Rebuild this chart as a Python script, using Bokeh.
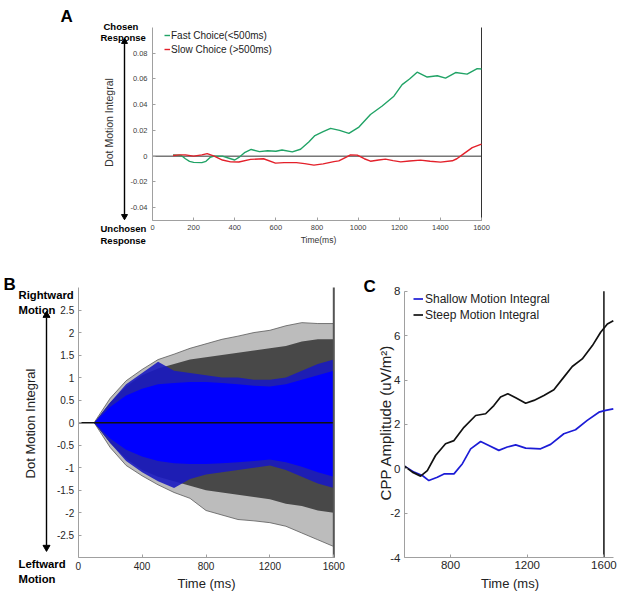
from math import pi
from bokeh.plotting import figure
from bokeh.models import Range1d, Label, FixedTicker, PrintfTickFormatter
from bokeh.layouts import column, row
from bokeh.embed import file_html
from bokeh.resources import INLINE

FONT = "Liberation Sans"

# ---------------- Panel A data ----------------
a_fast_t = [100, 140, 160, 180, 200, 240, 260, 280, 300, 340, 380, 400, 420, 450, 480,
            520, 560, 600, 630, 680, 720, 760, 790, 830, 866, 910, 955, 1004, 1060, 1117,
            1174, 1214, 1250, 1287, 1336, 1385, 1425, 1474, 1530, 1579, 1600]
a_fast_v = [0.001, 0.0005, -0.002, -0.004, -0.0048, -0.005, -0.004, -0.001, 0.0, 0.0,
            -0.002, -0.003, -0.001, 0.003, 0.0052, 0.0035, 0.0042, 0.0038, 0.0048, 0.0033,
            0.0054, 0.011, 0.016, 0.019, 0.0216, 0.02, 0.0177, 0.0226, 0.0324, 0.039,
            0.0466, 0.0556, 0.06, 0.0653, 0.0615, 0.0625, 0.0607, 0.065, 0.0638, 0.068, 0.0677]
a_slow_t = [100, 130, 160, 200, 240, 266, 300, 340, 380, 420, 477, 540, 598, 640, 700,
            740, 785, 830, 882, 906, 940, 963, 996, 1030, 1060, 1100, 1133, 1170, 1207,
            1250, 1303, 1350, 1401, 1458, 1480, 1506, 1555, 1600]
a_slow_v = [0.0005, 0.001, 0.001, 0.0, 0.001, 0.002, 0.0, -0.003, -0.0044, -0.0045,
            -0.0025, -0.002, -0.0054, -0.005, -0.005, -0.0058, -0.007, -0.006, -0.0042,
            -0.0037, -0.001, 0.001, 0.0008, -0.002, -0.0039, -0.003, -0.0023, -0.0035,
            -0.0044, -0.0038, -0.0031, -0.004, -0.0046, -0.0036, -0.002, 0.001, 0.0066, 0.0093]
a_labels = ["Fast Choice(<500ms)", "Slow Choice (>500ms)"]
a_xlim = (0, 1600)
a_ylim = (-0.05, 0.1)
a_xticks = [0, 200, 400, 600, 800, 1000, 1200, 1400, 1600]
a_yticks = [-0.04, -0.02, 0, 0.02, 0.04, 0.06, 0.08]

# ---------------- Panel B data (envelopes of the simulated traces) ----------------
b_t = [100, 200, 300, 400, 500, 600, 700, 800, 900, 1000, 1100, 1200, 1300, 1400, 1500, 1600]
b_outer_hi = [0, 0.54, 0.93, 1.18, 1.4, 1.52, 1.65, 1.75, 1.85, 1.92, 2.0, 2.05, 2.15, 2.22, 2.2, 2.2]
b_outer_lo = [0, -0.55, -0.95, -1.18, -1.38, -1.55, -1.68, -1.95, -2.05, -2.15, -2.18, -2.22, -2.3, -2.45, -2.6, -2.75]
b_dense_hi = [0, 0.45, 0.8, 1.05, 1.2, 1.3, 1.4, 1.45, 1.5, 1.55, 1.6, 1.65, 1.7, 1.8, 1.85, 1.85]
b_dense_lo = [0, -0.45, -0.8, -1.05, -1.2, -1.3, -1.4, -1.5, -1.55, -1.6, -1.65, -1.7, -1.8, -1.85, -1.95, -2.0]
b_blue_hi = [0, 0.45, 0.85, 1.1, 1.35, 1.15, 1.1, 1.05, 1.0, 1.0, 0.95, 0.95, 1.0, 1.15, 1.3, 1.4]
b_blue_lo = [0, -0.45, -0.85, -1.1, -1.3, -1.45, -1.25, -1.15, -1.1, -1.05, -1.0, -0.95, -1.05, -1.2, -1.35, -1.45]
b_core_hi = [0, 0.35, 0.6, 0.75, 0.85, 0.88, 0.9, 0.9, 0.88, 0.85, 0.82, 0.8, 0.85, 0.95, 1.05, 1.15]
b_core_lo = [0, -0.35, -0.6, -0.75, -0.85, -0.9, -0.92, -0.92, -0.9, -0.88, -0.85, -0.82, -0.88, -0.98, -1.1, -1.2]
b_xlim = (0, 1600)
b_ylim = (-3, 3)
b_xticks = [0, 400, 800, 1200, 1600]
b_yticks = [-2.5, -2, -1.5, -1, -0.5, 0, 0.5, 1, 1.5, 2, 2.5]

# ---------------- Panel C data ----------------
c_shallow_t = [560, 610, 653, 687, 731, 766, 818, 862, 905, 957, 1000, 1052, 1096, 1140,
               1192, 1270, 1322, 1391, 1452, 1513, 1574, 1609, 1649]
c_shallow_v = [0.12, -0.15, -0.3, -0.53, -0.38, -0.23, -0.23, 0.23, 0.9, 1.23, 1.05, 0.83,
               0.98, 1.08, 0.93, 0.9, 1.1, 1.58, 1.76, 2.18, 2.55, 2.63, 2.7]
c_steep_t = [560, 601, 644, 679, 722, 774, 818, 870, 931, 983, 1026, 1061, 1099, 1140,
             1192, 1235, 1287, 1339, 1391, 1435, 1487, 1540, 1583, 1618, 1649]
c_steep_v = [0.12, -0.15, -0.33, -0.08, 0.6, 1.13, 1.27, 1.87, 2.4, 2.48, 2.85, 3.23, 3.38,
             3.2, 2.95, 3.08, 3.3, 3.56, 4.13, 4.61, 4.95, 5.55, 6.15, 6.52, 6.67]
c_labels = ["Shallow Motion Integral", "Steep Motion Integral"]
c_xlim = (560, 1650)
c_ylim = (-4, 8)
c_xticks = [800, 1200, 1600]
c_yticks = [-4, -2, 0, 2, 4, 6, 8]

stim_end = 1600

AXIS_COL = "#a0a0a0"


# ---------- layout helpers (pixel boxes of each panel and of its plotting area) ----------
def make_panel(figbox, framebox, xlim, ylim):
    fx0, fx1, fy0, fy1 = figbox
    rx0, rx1, ry0, ry1 = framebox
    sx = (xlim[1] - xlim[0]) / (rx1 - rx0)
    sy = (ylim[1] - ylim[0]) / (ry1 - ry0)
    xr = (xlim[0] - (rx0 - fx0) * sx, xlim[1] + (fx1 - rx1) * sx)
    yr = (ylim[0] - (fy1 - ry1) * sy, ylim[1] + (ry0 - fy0) * sy)
    p = figure(x_range=Range1d(*xr), y_range=Range1d(*yr),
               frame_width=int(round(fx1 - fx0)), frame_height=int(round(fy1 - fy0)),
               min_border_left=0, min_border_right=0, min_border_top=0, min_border_bottom=0,
               output_backend="svg", toolbar_location=None)
    p.outline_line_color = None
    p.xgrid.visible = False
    p.ygrid.visible = False
    p.background_fill_color = "white"
    p.border_fill_color = "white"
    p.xaxis.fixed_location = ylim[0]
    p.xaxis.bounds = xlim
    p.yaxis.fixed_location = xlim[0]
    p.yaxis.bounds = ylim
    fr = (framebox, xlim, ylim)
    return p, fr


def style(p, xticks, yticks, tick_size, tick_col, xstand, ystand):
    p.xaxis.ticker = FixedTicker(ticks=xticks)
    p.yaxis.ticker = FixedTicker(ticks=yticks)
    p.yaxis.formatter = PrintfTickFormatter(format="%g")
    p.xaxis.formatter = PrintfTickFormatter(format="%g")
    for ax in p.axis:
        ax.axis_label = None
        ax.axis_line_color = AXIS_COL
        ax.axis_line_width = 1
        ax.major_tick_line_color = AXIS_COL
        ax.major_tick_in = 3
        ax.major_tick_out = 0
        ax.minor_tick_line_color = None
        ax.major_label_text_font = FONT
        ax.major_label_text_font_size = f"{tick_size}px"
        ax.major_label_text_color = tick_col
    p.xaxis.major_label_standoff = xstand
    p.yaxis.major_label_standoff = ystand


def to_data(fr, px, py):
    (x0, x1, y0, y1), (xa, xb), (ya, yb) = fr
    x = xa + (px - x0) / (x1 - x0) * (xb - xa)
    y = yb - (py - y0) / (y1 - y0) * (yb - ya)
    return x, y


def add_text(p, fr, txt, px, py, size, bold=True, align="left", baseline="alphabetic",
             angle=0.0, color="black"):
    x, y = to_data(fr, px, py)
    p.add_layout(Label(x=x, y=y, text=txt, text_font=FONT, text_font_size=f"{size}px",
                       text_font_style="bold" if bold else "normal", text_align=align,
                       text_baseline=baseline, angle=angle, text_color=color))


def add_arrow(p, fr, px, py_top, py_bot, head=7):
    x, yt = to_data(fr, px, py_top)
    _, yb = to_data(fr, px, py_bot)
    _, yt_c = to_data(fr, px, py_top + head * 0.45)
    _, yb_c = to_data(fr, px, py_bot - head * 0.45)
    _, yt_s = to_data(fr, px, py_top + head * 0.8)
    _, yb_s = to_data(fr, px, py_bot - head * 0.8)
    p.segment(x0=[x], y0=[yt_s], x1=[x], y1=[yb_s], line_color="black", line_width=1.4)
    p.scatter(x=[x, x], y=[yt_c, yb_c], marker="triangle", angle=[0, pi], size=head,
              fill_color="black", line_color="black")


# ================= Panel A =================
pA, frA = make_panel((0, 617, 0, 258), (152, 481, 27, 220), a_xlim, a_ylim)
style(pA, a_xticks, a_yticks, 7.5, "#404040", 4, 5)
pA.line([a_xlim[0], a_xlim[1]], [0, 0], line_color="#333333", line_width=1)
pA.line([stim_end, stim_end], [a_ylim[0], a_ylim[1]], line_color="#333333", line_width=1)
pA.line(a_fast_t, a_fast_v, line_color="#21a366", line_width=1.4, legend_label=a_labels[0])
pA.line(a_slow_t, a_slow_v, line_color="#e3202a", line_width=1.4, legend_label=a_labels[1])
lgA = pA.legend[0]
lgA.location = (164, 203)
lgA.margin = 0
lgA.padding = 0
lgA.spacing = 2
lgA.label_height = 12
lgA.glyph_height = 12
lgA.glyph_width = 6
lgA.label_standoff = 1
lgA.label_text_font = FONT
lgA.label_text_font_size = "10px"
lgA.label_text_color = "#222222"
lgA.background_fill_alpha = 0
lgA.border_line_color = None

add_text(pA, frA, "A", 60, 16, 17)
add_text(pA, frA, "Chosen", 103, 25.5, 9.5)
add_text(pA, frA, "Response", 100, 36.5, 9.5)
add_text(pA, frA, "Unchosen", 100, 227.5, 9.5)
add_text(pA, frA, "Response", 100, 239.5, 9.5)
add_arrow(pA, frA, 124, 38.5, 218.5, head=6)
add_text(pA, frA, "Dot Motion Integral", 108, 122, 10.5, bold=False, align="center",
         baseline="middle", angle=pi / 2, color="#333333")
add_text(pA, frA, "Time(ms)", 318, 239, 8.5, bold=False, align="center",
         baseline="middle", color="#333333")

# ================= Panel B =================
pB, frB = make_panel((0, 355, 258, 591), (77.7, 333.3, 287, 557.3), b_xlim, b_ylim)
style(pB, b_xticks, b_yticks, 10, "#262626", 4, 4)
pB.varea(x=b_t, y1=b_outer_lo, y2=b_outer_hi, fill_color="#7a7a7a", fill_alpha=0.5)
pB.line(b_t, b_outer_hi, line_color="#5a5a5a", line_width=0.8)
pB.line(b_t, b_outer_lo, line_color="#5a5a5a", line_width=0.8)
pB.varea(x=b_t, y1=b_dense_lo, y2=b_dense_hi, fill_color="#2a2a2a", fill_alpha=0.8)
pB.varea(x=b_t, y1=b_blue_lo, y2=b_blue_hi, fill_color="#1a1ac0", fill_alpha=0.9)
pB.varea(x=b_t, y1=b_core_lo, y2=b_core_hi, fill_color="#0000ff", fill_alpha=1)
pB.line([b_xlim[0], b_xlim[1]], [0, 0], line_color="#111111", line_width=1.5)
pB.line([stim_end, stim_end], [b_ylim[0], b_ylim[1]], line_color="#555555", line_width=2)

add_text(pB, frB, "B", 3, 284, 17)
add_text(pB, frB, "Rightward", 18, 294.5, 11.3)
add_text(pB, frB, "Motion", 18, 309.3, 11.3)
add_text(pB, frB, "Leftward", 18, 563.3, 11.3)
add_text(pB, frB, "Motion", 18, 578.3, 11.3)
add_arrow(pB, frB, 46, 311.7, 550, head=7)
add_text(pB, frB, "Dot Motion Integral", 30, 423, 13, bold=False, align="center",
         baseline="middle", angle=pi / 2, color="#222222")
add_text(pB, frB, "Time (ms)", 206, 583, 13, bold=False, align="center",
         baseline="middle", color="#222222")

# ================= Panel C =================
pC, frC = make_panel((355, 617, 258, 591), (404, 613, 290.7, 557.1), c_xlim, c_ylim)
style(pC, c_xticks, c_yticks, 11.5, "#262626", 3, 4)
pC.line([stim_end, stim_end], [c_ylim[0], c_ylim[1]], line_color="#111111", line_width=1.5)
pC.line(c_shallow_t, c_shallow_v, line_color="#1c1cd6", line_width=1.7, legend_label=c_labels[0])
pC.line(c_steep_t, c_steep_v, line_color="#111111", line_width=1.7, legend_label=c_labels[1])
lgC = pC.legend[0]
lgC.location = (58, 269.5)
lgC.margin = 0
lgC.padding = 0
lgC.spacing = 2
lgC.label_height = 13
lgC.glyph_height = 13
lgC.glyph_width = 10
lgC.label_standoff = 2
lgC.label_text_font = FONT
lgC.label_text_font_size = "12px"
lgC.label_text_color = "#222222"
lgC.background_fill_alpha = 0
lgC.border_line_color = None

add_text(pC, frC, "C", 363, 286, 17)
add_text(pC, frC, "CPP Amplitude (uV/m²)", 384.5, 422, 15, bold=False, align="center",
         baseline="middle", angle=pi / 2, color="#222222")
add_text(pC, frC, "Time (ms)", 509.5, 583, 13, bold=False, align="center",
         baseline="middle", color="#222222")

layout = column(pA, row(pB, pC, spacing=0), spacing=0)
open("out.html", "w").write(file_html(layout, INLINE))
